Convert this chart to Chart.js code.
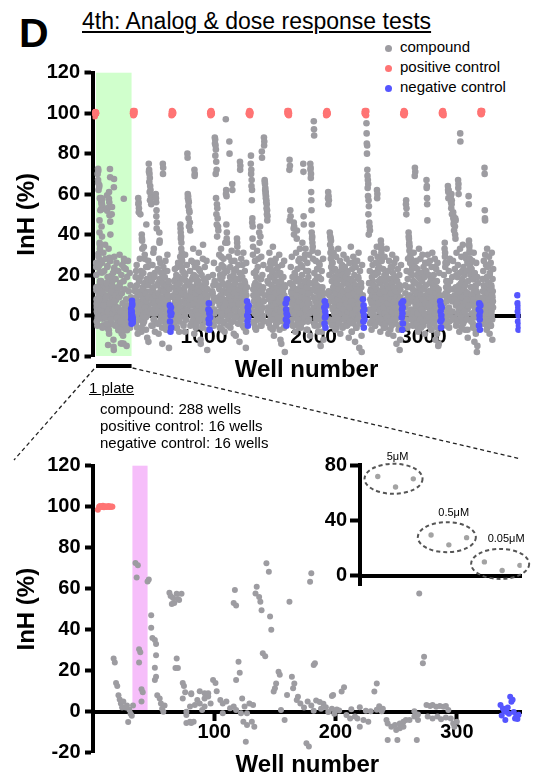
<!DOCTYPE html>
<html><head><meta charset="utf-8">
<script src="https://cdn.jsdelivr.net/npm/chart.js@4.4.1/dist/chart.umd.min.js"></script>
<style>
html,body{margin:0;padding:0;background:#fff;}
body{width:541px;height:777px;position:relative;overflow:hidden;font-family:'Liberation Sans',Arial,sans-serif;color:#000;}
.abs{position:absolute;white-space:nowrap;line-height:1;}
canvas{position:absolute;}
.dot{position:absolute;width:7px;height:7px;border-radius:50%;}
</style></head><body>
<div class="abs" style="left:19px;top:13px;font-size:41px;font-weight:bold">D</div>
<div class="abs" style="left:82px;top:10px;font-size:23px;text-decoration:underline">4th: Analog &amp; dose response tests</div>
<div class="dot" style="left:384.5px;top:44.5px;background:#9d9ca1"></div>
<div class="abs" style="left:400px;top:39.3px;font-size:15px">compound</div>
<div class="dot" style="left:384.5px;top:64.5px;background:#ff7474"></div>
<div class="abs" style="left:400px;top:59.3px;font-size:15px">positive control</div>
<div class="dot" style="left:384.5px;top:84.5px;background:#5555ff"></div>
<div class="abs" style="left:400px;top:79.3px;font-size:15px">negative control</div>
<canvas id="topChart" width="541" height="470" style="left:0;top:0"></canvas>
<canvas id="bottomChart" width="541" height="337" style="left:0;top:440px"></canvas>
<canvas id="insetChart" width="241" height="160" style="left:300px;top:440px"></canvas>
<div class="abs" style="left:89px;top:380.3px;font-size:15px;text-decoration:underline">1 plate</div>
<div class="abs" style="left:100px;top:400px;font-size:15px;line-height:17px">compound: 288 wells<br>positive control: 16 wells<br>negative control: 16 wells</div>
<div class="abs" style="left:386.7px;top:451.4px;font-size:11px">5μM</div>
<div class="abs" style="left:438.3px;top:506.7px;font-size:11px">0.5μM</div>
<div class="abs" style="left:487.7px;top:533.4px;font-size:11px">0.05μM</div>
<script>
// ---------------- DATA ----------------
const plateSize = 352;
const topXTicks = [1000, 2000, 3000];
const bottomXTicks = [100, 200, 300];
const insetYTicks = [0, 40, 80];
const highlightedWells = [16, 340];     // plate shown below (green band)
const testedAnalogWells = [32.5, 45];   // pink band

// Plate shown in the lower panel: compound wells [well, InH %]
const plateCompound = [
 [17,26],[18,24],[19,14],[20,12.5],[21,8],[22,6],[23,4],[24,2],[25,5],[27,2],[28,3],[29,-5],[30,1],[31,-1],[32,-2],[33,3],
 [35,72.5],[37,71.5],[36,65.5],[38,30.5],[39,29],[38,24],[40,11],[41,9.5],[40,5],[45,63.5],[46,64.5],
 [48,47],[48,41],[49,36],[51,35],[52,33],[52,27.5],[51,21.5],[51,15.5],[52,17],[53,8],[55,6.5],[56,4],[57,1.5],[58,0],[59,3],
 [63,58],[64,56.5],[66,55.5],[67,53],[69,57.5],[70,55],[71,54.5],[73,57.5],[65,52.5],
 [69,26],[68,21.3],[70,21.3],[74,14],[75,12.5],[76,9.5],[74,6.5],[81,8.5],[80,2.5],[77,0],[81,-5.5],[77,-5.5],
 [77,-1.6],[80,-4.9],[83,-4.9],[81,9],[88,10],[92,9],[95,9],[84,3.3],[86,5.7],[88,4],[92,6.5],[95,7.4],[97,4],
 [99,15.5],[101,14],[102,10],[105,5.7],[107,4],[110,5],[113,1.7],[116,2.5],[92,2.5],[90,0.8],[107,-0.8],[118,0.8],[122,-0.8],
 [117,59.4],[116,53],[118,51.8],[120,24.4],[121,19],[118,15.5],
 [123,6.5],[125,2.5],[127,-0.8],[124,-4.9],[127,-6.5],[131,-4.9],[133,-7.3],[129,4],[132,3.3],[126,-14.6],
 [135,61],[134,57.7],[137,56],[138,53.6],[139,49.5],[143,72.4],[145,68.3],[146,46.4],[147,40],[140,28.5],[142,27],
 [153,19.5],[154,18],[151,13.8],[150,11.4],[149,9.8],[155,0.8],[158,-4],[162,53.6],[164,17],[166,13.8],[165,11.4],[160,8.2],[168,5.7],[169,7.3],
 [171,4],[174,2],[177,5],[180,3],[182,0.5],
 [180,67.5],[179,63.4],[182,22.8],[183,23.6],[176,-15.4],[178,-17],
 [184,5.5],[187,4.7],[190,3.9],[192,2.2],[197,1.4],[201,1.1],[203,0.6],[188,1.4],[194,-0.2],[199,-1],[198,8.1],[197,7.6],[205,9.8],[207,11.9],
 [209,-1.6],[212,-3.3],[213,1.2],[216,-2.4],[218,-3.3],[220,2.2],[220,-7.3],[223,-4.1],[225,0.5],[227,-4.9],[229,0.2],[232,9.8],[234,13.8],[234,1],[236,2.6],[238,0.2],[239,1.4],
 [242,-4.1],[243,-5.7],[246,-7.3],[249,-6.5],[253,-5.7],[256,-4.9],[258,-4.1],[261,-4.1],[265,-2.4],[268,-4.1],[250,-8.9],[253,-8.1],[256,-7.3],[243,-13.8],[251,-13.8],[267,-13.8],[265,0.2],[268,-1.4],
 [269,57.7],[273,26.8],[272,23.6],
 [275,3.3],[278,2.8],[280,3.3],[283,2.4],[286,2.8],[289,2.4],[291,2.8],[293,0.8],[276,-2.4],[280,-3.3],[284,-2.4],[287,-3.7],[291,-2.8],[295,-3.3],[297,-5.7],[298,-7.3],[300,-4.9]
];
const platePositiveWells = [4,5,5.8,6.6,7.4,8.2,9,9.8,10.6,11.4,12.2,13,13.8,14.6,15.4,16];
const platePositiveInH = [98.5,100,100.3,99.8,100,100.5,99.7,100,100.2,99.9,100,100.4,99.8,100,100.1,100];
const plateNegativeWells = [336,337,338,339,340,341,342,343,344,345,346,347,348,349,350,351];
const plateNegativeInH = [3.3,-1.9,1.6,0.5,-4.1,-0.2,2,-1,7.3,4.9,5.8,-0.2,-3.3,-2.4,-3.5,-1.5];
// extra wells of the first plate as seen in the overview (in well order)
const screenPlate01Extra = [20,-3,14,70,67,62,8,25,58,52, 3,17,44,39,-6,11,31,5,22,-1, 35,28,9,16,-4,24,2,13,33,-9,
 19,6,27,-2,12,50,15,1,21,-12, 7,29,3,-5,18,10,26,-1,14,4, 22,-7,9,30,16,2,-3,20,11,25, 6,-10,17,28,1,13,-4,23,8,-15, 19,5,27,-2,12,3,21,-6,15,9];

// Remaining plates of the screen: compound InH (%) in well order, two interleaved well sets per plate
const screenPlate02 = [5,12,-3,8,22,0,15,-6,3,10, 58,56,53,4,-2,11,50,19,7,-8, 40,37,2,14,-4,9,34,6,28,-1, 12,3,-7,45,8,17,0,24,5,-13,
 75,72,70,68,64,62,59,55,10,2, 6,-5,13,31,3,8,-2,21,11,1, 60,56,52,46,4,-4,9,16,-9,7, 41,37,2,26,12,-1,5,18,-6,3,
 75,73,8,0,14,-3,6,22,10,-5, 4,11,-2,30,7,1,-7,15,3,9];
const screenPlate02b = [14,2,19,-4,9,25,1,12,-9,6, 55,51,17,3,28,-2,10,22,5,-6, 38,33,13,0,21,8,-3,16,30,4, 11,-1,24,7,18,-11,2,15,27,9,
 71,66,61,57,20,12,3,-5,17,8, 25,1,14,-2,33,6,19,-8,10,4, 58,49,43,15,2,23,-4,11,7,28, 36,18,5,-3,13,21,0,9,-14,16,
 70,24,6,12,-1,19,3,27,8,-7, 15,2,22,-3,10,17,5,-16,13,1];
const screenPlate03 = [3,9,-4,14,1,7,-2,18,5,11, -6,2,24,8,0,13,-3,6,16,-1, 45,41,39,36,31,27,22,4,10,-5, 7,12,1,-8,20,3,9,-2,15,6,
 80,60,59,57,56,52,51,46,42,8, 2,14,-4,5,11,0,19,-1,7,26, 72,70,13,3,-6,9,1,16,4,-3, 10,6,23,0,12,-2,8,3,-14,5,
 14,1,7,-5,28,9,2,11,-1,6, 4,17,-3,8,0,13,5,-7,10,2];
const screenPlate03b = [10,-3,17,5,23,1,12,-6,20,8, 3,15,-1,26,9,19,-8,13,4,29, 43,38,33,28,24,11,2,18,-4,7, 21,14,0,30,6,-2,17,10,25,3,
 78,58,54,48,44,16,5,22,-5,12, 9,27,1,18,-3,14,33,6,20,-9, 69,24,11,2,19,-4,8,26,13,0, 17,5,31,-2,12,22,7,-12,15,3,
 20,9,-6,14,35,1,18,6,-1,24, 11,-3,16,4,27,8,-17,13,2,19];
const screenPlate04 = [6,-2,11,3,15,-5,8,1, 88,87,84,82,76,72,55,53,48,44,42, 9,-3,13,2,20,6,-1,29,10,4, -7,16,1,8,24,-4,12,3,7,0,
 97,62,59,41,36,5,11,-2,14,8, 86,3,19,-6,9,1,27,12,65,4, -3,7,15,0,22,6,-1,10,-10,3, 13,8,36,31,2,-4,11,5,18,0,
 76,74,9,-2,6,14,1,25,-5,8, 3,12,-1,7,16,0,4,-8,10,2];
const screenPlate04b = [12,1,20,-4,9,26,3,17, 85,79,70,58,50,45,39,15,7,-2,23, 14,30,5,-6,18,10,33,1,25,8, 19,-3,12,28,4,21,-8,15,36,6,
 60,45,38,11,22,2,-5,16,29,9, 80,13,24,0,18,7,32,-3,62,14, 5,20,-9,11,27,3,16,-1,23,8, 18,38,34,10,-4,25,6,13,-13,21,
 72,15,2,28,9,-2,19,11,4,31, 7,-6,17,22,1,12,-16,26,5,14];
const screenPlate05 = [4,79,72,67,62,48,44,34,10,-3, 7,15,1,-6,12,5,22,0,9,-2, 14,3,28,8,-1,11,6,44,39,2, 18,-5,81,4,13,0,7,-3,88,86,
 67,65,63,61,59,57,55,52,49,10, 2,16,-4,8,1,12,26,24,-1,6, 3,20,9,-7,14,0,5,11,-2,8, 17,1,-5,10,4,23,7,-1,13,2,
 6,-3,9,15,0,-12,11,3,19,5, 8,-2,12,1,6,-6,10,4,14,0];
const screenPlate05b = [75,70,64,57,46,38,30,13,2,21, -4,9,27,16,5,-7,19,11,32,1, 24,8,-2,15,41,36,6,18,-5,12, 29,3,78,20,-1,14,25,7,84,10,
 66,62,60,58,56,53,50,47,17,4, 23,-3,12,31,8,19,-6,27,2,15, 9,22,-2,34,13,5,-10,18,26,1, 11,28,6,-4,20,14,3,24,-1,16,
 7,30,-7,12,21,2,17,-14,9,25, 4,13,-3,19,8,27,1,-18,15,6];
const screenPlate06 = [8,77,74,52,49,3,12,-2,6,15, 1,9,-5,46,44,11,4,20,-1,7, 13,0,42,5,-4,10,2,17,8,-2, 28,3,11,-6,6,14,1,24,9,0,
 75,49,5,-3,12,30,7,1,16,-1, 4,10,-7,8,22,2,13,-2,6,11, 75,73,70,57,41,38,36,34,3,9, 96,89,-4,15,1,7,12,-1,5,19,
 2,8,-5,11,0,26,6,14,3,-2, 9,1,13,-8,4,10,0,7,-3,5];
const screenPlate06b = [72,47,16,3,24,-3,11,29,6,19, -5,14,43,40,8,21,2,-8,17,31, 10,38,4,23,-2,13,27,7,-6,18, 33,1,15,25,-4,9,20,36,5,12,
 71,45,28,-1,17,8,33,3,22,-7, 14,26,6,-3,19,11,30,1,16,-10, 72,68,61,52,45,39,32,28,13,4, 92,21,-5,17,8,27,2,-2,15,23,
 6,31,-8,12,19,3,25,-1,10,-15, 18,5,22,-4,14,8,28,-12,11,2];
const screenPlate07 = [5,61,59,57,10,-2,7,39,38,37, 33,30,26,22,3,12,-4,8,1,15, 6,-1,11,18,2,-6,9,4,14,0, 7,-3,10,20,5,1,13,-2,8,3,
 24,21,19,6,-5,11,2,16,9,-1, 4,12,0,7,-3,22,5,10,1,14, 8,-4,3,17,6,-1,11,2,-8,9, 13,0,5,26,-2,7,10,3,15,1,
 6,-6,12,4,9,-1,2,18,8,0, 5,11,-3,7,1,14,-10,4,9,2];
const screenPlate07b = [58,55,12,-3,20,41,35,31,28,24, 9,17,-5,26,4,14,31,-2,19,7, 23,-7,11,29,2,16,-1,21,8,33, 13,-4,18,5,27,-9,10,22,1,15,
 25,20,-6,12,30,3,17,-2,24,8, -1,19,6,28,-5,13,21,2,16,-11, 10,26,4,-3,18,34,7,14,-8,23, 1,17,29,-4,11,20,5,-13,15,24,
 3,-6,13,27,9,-2,19,31,6,-16, 12,22,-4,8,16,1,-18,25,4,10];
const screenPlate08 = [95,85,84,69,67,65,57,54,46,44, 42,8,1,13,-3,6,10,2,17,-1, 5,11,0,21,7,-5,14,3,9,-2, 62,60,26,23,4,12,-1,8,16,2,
 6,37,33,29,-4,10,1,13,5,-2, 9,20,3,-6,11,0,7,15,2,-1, 12,4,8,-3,18,6,1,10,-7,3, 14,0,9,2,24,-2,6,11,1,5,
 8,-4,13,3,17,0,7,-1,10,4, 2,12,-5,6,15,1,-12,9,3,7];
const screenPlate08b = [90,80,72,63,59,50,40,16,3,22, -4,12,28,7,-7,19,1,25,10,-2, 15,31,4,-5,20,9,26,-1,13,34, 58,29,21,6,-3,17,24,2,11,-8,
 18,35,31,27,8,-2,14,23,4,-6, 12,29,1,17,-4,20,9,33,-1,15, 6,22,-9,13,27,3,-3,18,8,24, 11,-5,16,30,2,21,-10,14,7,26,
 19,4,-2,12,28,-14,9,17,1,23, 5,-7,15,20,-17,8,13,2,25,-4];
const screenPlate09 = [4,11,-2,57,53,8,1,14,-5,6, 41,38,36,34,10,2,31,28,-1,26, 23,7,13,0,-4,9,16,3,73,71, 5,12,-2,8,20,1,-6,10,4,15,
 0,7,-3,11,2,18,6,-1,9,13, 3,-5,8,1,14,5,-2,22,7,0, 10,67,64,55,26,4,-3,12,1,8, 16,-1,6,2,11,-7,5,19,0,9,
 3,13,-4,7,1,10,24,-2,6,14, 2,-9,8,4,12,0,-14,5,9,1];
const screenPlate09b = [15,-3,55,50,22,6,-6,18,28,9, 39,35,32,29,26,21,3,14,-2,25, 20,8,-5,17,31,2,12,69,24,-1, 16,7,27,-4,11,23,1,-8,19,33,
 5,14,-2,28,10,-6,21,3,17,30, 8,-3,24,13,1,19,-9,26,6,15, 22,63,58,47,30,11,-1,20,5,-5, 27,12,2,18,-7,24,9,31,-2,14,
 7,20,-4,16,28,1,-12,11,23,4, 17,-6,26,9,-15,13,3,21,-1,10];
const screenPlate10 = [6,-2,10,36,31,26,3,14,-5,8, 1,12,64,61,62,4,-3,9,17,0, 59,56,60,57,7,2,13,51,49,46, -1,10,44,48,47,5,20,-4,8,1,
 11,67,65,3,15,-2,6,90,0,9, 13,-6,4,22,7,1,10,-3,16,2, 8,12,-1,5,28,0,9,3,-7,11, 4,59,37,34,31,26,22,6,-2,14,
 1,8,18,-4,5,10,0,12,-1,7, 3,15,-8,6,2,11,-15,4,9,0];
const screenPlate10b = [20,-4,33,29,24,11,-1,17,7,26, 3,15,62,58,22,-6,13,28,2,9, 57,53,55,50,19,-2,27,48,45,42, 8,23,40,38,14,-5,31,6,19,-3,
 25,63,60,12,-8,21,33,86,4,16, 29,-1,18,9,35,-4,24,13,2,20, -7,15,30,7,22,-2,11,26,-11,17, 5,55,35,32,28,24,20,14,-3,23,
 10,27,1,-6,18,31,8,-13,21,4, 14,-9,26,12,-18,19,2,16,-5,9];
const screenPlate11 = [5,-2,12,8,1,15,-4,7,73,52, 47,3,10,-1,18,6,0,13,-6,9, 2,11,-3,16,4,8,-1,20,1,7, -5,10,3,14,0,6,-2,9,12,4];
const screenPlate11b = [18,3,-4,22,9,27,1,14,70,48, 30,-2,12,25,6,-7,19,33,4,11, 24,-3,16,8,29,1,-9,21,13,5, 26,-5,15,2,31,10,-12,18,7,23];
const screenCompoundSpan = [320,320,320,320,320,320,320,320,320,100];
const screenPositiveInH = [
 [100,101,99,100,100.5,99.5,100,101],[99,100,101,100,99.5,100,100.5,100],[100,100.5,99,100,101,100,99.5,100],
 [100,99.5,100,101,100,99,100.5,100],[101,100,99.5,100,100,101,99,100],[100,99,100.5,100,101,100,99.5,100],
 [100,101,100,99.5,100,100.5,99,101],[99.5,100,100,101,99,100,100.5,100],[100,100.5,99.5,100,101,100,100,99],
 [100,101,101,99.5,100,100,100.5,101]];
const screenNegativeInH = [
 [5,-3,2,-8,0,4,-6,1],[3,-2,6,-4,1,-7,2,-1],[7,0,-3,4,-5,2,-1,5],[6,-2,3,-5,1,8,-3,0],[4,-4,7,-1,2,-6,0,5],
 [8,2,-3,5,-6,0,3,-2],[6,-1,3,-7,1,4,-4,7],[7,-3,2,5,-6,0,-2,4],[3,-5,6,0,-2,-7,2,5],[10,6,2,-3,4,-7,0,-5]];

// Inset: dose response of one analog (triplicates)
const doseLabels = ['5μM','0.5μM','0.05μM'];
const doseReplicateX = [1,2,3,4,5,6,7,8,9];
const doseInH = [71.7,64.1,70.0, 29.4,22.3,27.5, 10.0,3.8,7.5];

// ---------------- STYLE ----------------
const GREY = '#9d9ca1', RED = '#ff7474', BLUE = '#5555ff';
const GREEN_BAND = 'rgb(208,255,204)', PINK_BAND = 'rgb(246,190,250)';
Chart.defaults.font.family = "'Liberation Sans', Arial, sans-serif";
Chart.defaults.color = '#000';

// ---------------- BUILD ----------------
const topCompound = plateCompound.map(([w, v]) => ({x: w, y: v}));
screenPlate01Extra.forEach((v, i) => topCompound.push({x: 17 + (i + 0.5) * 320 / screenPlate01Extra.length, y: v}));
const screenPlates = [screenPlate02, screenPlate03, screenPlate04, screenPlate05, screenPlate06,
  screenPlate07, screenPlate08, screenPlate09, screenPlate10, screenPlate11];
const screenPlatesB = [screenPlate02b, screenPlate03b, screenPlate04b, screenPlate05b, screenPlate06b,
  screenPlate07b, screenPlate08b, screenPlate09b, screenPlate10b, screenPlate11b];
screenPlates.forEach((vals, j) => {
  const k = j + 1, span = screenCompoundSpan[j];
  vals.forEach((v, i) => topCompound.push({x: k * plateSize + 17 + i * span / vals.length, y: v}));
  const b = screenPlatesB[j];
  b.forEach((v, i) => topCompound.push({x: k * plateSize + 17 + (i + 0.5) * span / b.length, y: v}));
});
const topPos = platePositiveWells.map((w, i) => ({x: w, y: platePositiveInH[i]}));
screenPositiveInH.forEach((vals, j) => vals.forEach((v, i) => topPos.push({x: (j + 1) * plateSize + 1 + 2 * i, y: v})));
const topNeg = plateNegativeWells.map((w, i) => ({x: w, y: plateNegativeInH[i]}));
screenNegativeInH.forEach((vals, j) => vals.forEach((v, i) => topNeg.push({x: (j + 1) * plateSize + 337 + 2 * i, y: v})));

const axisTitleFont = {size: 24, weight: 'bold'};
function yAxis(width) {
  return {
    type: 'linear', min: -20, max: 120, position: 'left', z: 1,
    afterFit: s => { s.width = width; },
    ticks: {stepSize: 20, font: {size: 20, weight: 'bold'}, color: '#000', padding: 4.5},
    grid: {drawOnChartArea: false, tickLength: 8, tickWidth: 4, tickColor: '#000'},
    border: {width: 4, color: '#000'},
    title: {display: true, text: 'InH (%)', font: axisTitleFont, color: '#000', padding: {top: 12.6, bottom: 0}}
  };
}
function xAxis(min, max, tickVals, fontSize) {
  return {
    type: 'linear', min, max, position: {y: 0}, z: 1,
    afterBuildTicks: s => { s.ticks = tickVals.map(v => ({value: v})); },
    grid: {drawOnChartArea: false, drawTicks: true, tickLength: 7, tickWidth: 4, tickColor: '#000'},
    border: {display: true, width: 4, color: '#000'},
    ticks: {font: {size: fontSize, weight: 'bold'}, color: '#000', padding: 2, maxRotation: 0, autoSkip: false,
            callback: v => String(v)},
    title: {display: true, text: 'Well number', font: axisTitleFont, color: '#000'}
  };
}
const pt = (data, color, r, label) => ({label, data, backgroundColor: color, borderWidth: 0, pointRadius: r, pointHoverRadius: r});
const commonOpts = {responsive: false, animation: false, events: [], plugins: {legend: {display: false}, tooltip: {enabled: false}}};

const topDecor = {
  id: 'topDecor',
  beforeDraw(chart) {
    const {ctx, chartArea: a, scales: {x}} = chart;
    const x0 = x.getPixelForValue(highlightedWells[0]), x1 = x.getPixelForValue(highlightedWells[1]);
    ctx.save(); ctx.fillStyle = GREEN_BAND; ctx.fillRect(x0, a.top, x1 - x0, a.bottom - a.top); ctx.restore();
  },
  afterDraw(chart) {
    const {ctx, chartArea: a, scales: {x}} = chart;
    const x0 = x.getPixelForValue(highlightedWells[0]), x1 = x.getPixelForValue(highlightedWells[1]);
    const by = a.bottom + 10;
    ctx.save();
    ctx.strokeStyle = '#000'; ctx.lineWidth = 4;
    ctx.beginPath(); ctx.moveTo(x0, by); ctx.lineTo(x1, by); ctx.stroke();
    ctx.setLineDash([4, 3]); ctx.lineWidth = 1.3; ctx.strokeStyle = '#222';
    ctx.beginPath(); ctx.moveTo(x0 - 2, by + 3); ctx.lineTo(14, 460); ctx.stroke();
    ctx.beginPath(); ctx.moveTo(x1 + 1, by + 2); ctx.lineTo(chart.width - 20, 459); ctx.stroke();
    ctx.restore();
  }
};
new Chart(document.getElementById('topChart'), {
  type: 'scatter',
  data: {datasets: [pt(topNeg, BLUE, 3.3, 'negative control'), pt(topPos, RED, 3.3, 'positive control'), pt(topCompound, GREY, 3.3, 'compound')]},
  options: Object.assign({}, commonOpts, {
    layout: {padding: {left: 0, top: 72.7, right: 20.5, bottom: 114}, autoPadding: false},
    scales: {x: xAxis(-16, 3885, topXTicks, 21), y: yAxis(92.5)}
  }),
  plugins: [topDecor]
});

const bottomDecor = {
  id: 'bottomDecor',
  beforeDraw(chart) {
    const {ctx, scales: {x, y}} = chart;
    const x0 = x.getPixelForValue(testedAnalogWells[0]), x1 = x.getPixelForValue(testedAnalogWells[1]);
    const y0 = y.getPixelForValue(120), y1 = y.getPixelForValue(0);
    ctx.save(); ctx.fillStyle = PINK_BAND; ctx.fillRect(x0, y0, x1 - x0, y1 - y0); ctx.restore();
  }
};
new Chart(document.getElementById('bottomChart'), {
  type: 'scatter',
  data: {datasets: [
    pt(plateNegativeWells.map((w, i) => ({x: w, y: plateNegativeInH[i]})), BLUE, 3, 'negative control'),
    pt(platePositiveWells.map((w, i) => ({x: w, y: platePositiveInH[i]})), RED, 3, 'positive control'),
    pt(plateCompound.map(([w, v]) => ({x: w, y: v})), GREY, 3, 'compound')]},
  options: Object.assign({}, commonOpts, {
    layout: {padding: {left: 0, top: 25.7, right: 19.3, bottom: 24.3}, autoPadding: false},
    scales: {x: xAxis(0, 353.5, bottomXTicks, 20), y: yAxis(93)}
  }),
  plugins: [bottomDecor]
});

const insetDecor = {
  id: 'insetDecor',
  afterDatasetsDraw(chart) {
    const {ctx, scales: {x, y}} = chart;
    ctx.save(); ctx.setLineDash([4, 3]); ctx.lineWidth = 2; ctx.strokeStyle = '#555';
    for (let g = 0; g < doseLabels.length; g++) {
      let sx = 0, sy = 0;
      for (let r = 0; r < 3; r++) { sx += x.getPixelForValue(doseReplicateX[g * 3 + r]); sy += y.getPixelForValue(doseInH[g * 3 + r]); }
      ctx.beginPath(); ctx.ellipse(sx / 3 - 2, sy / 3 - 2, 29, 15, 0, 0, Math.PI * 2); ctx.stroke();
    }
    ctx.restore();
  }
};
new Chart(document.getElementById('insetChart'), {
  type: 'scatter',
  data: {datasets: [pt(doseReplicateX.map((d, i) => ({x: d, y: doseInH[i]})), '#a3a3a3', 2.7, 'analog')]},
  options: Object.assign({}, commonOpts, {
    layout: {padding: {left: 0, top: 25, right: 19.3, bottom: 13.3}, autoPadding: false},
    scales: {
      x: {type: 'linear', min: 0, max: 9.1, position: {y: 0}, z: 1, ticks: {display: false},
          grid: {display: true, drawOnChartArea: false, drawTicks: false}, border: {display: true, width: 4, color: '#000'}},
      y: {type: 'linear', min: -6.7, max: 80, position: 'left', z: 1,
          afterBuildTicks: s => { s.ticks = insetYTicks.map(v => ({value: v})); },
          afterFit: s => { s.width = 60; },
          ticks: {font: {size: 20, weight: 'bold'}, color: '#000', padding: 3},
          grid: {drawOnChartArea: false, tickLength: 10, tickWidth: 4, tickColor: '#000'},
          border: {width: 4, color: '#000'}}
    }
  }),
  plugins: [insetDecor]
});
</script>
</body></html>
